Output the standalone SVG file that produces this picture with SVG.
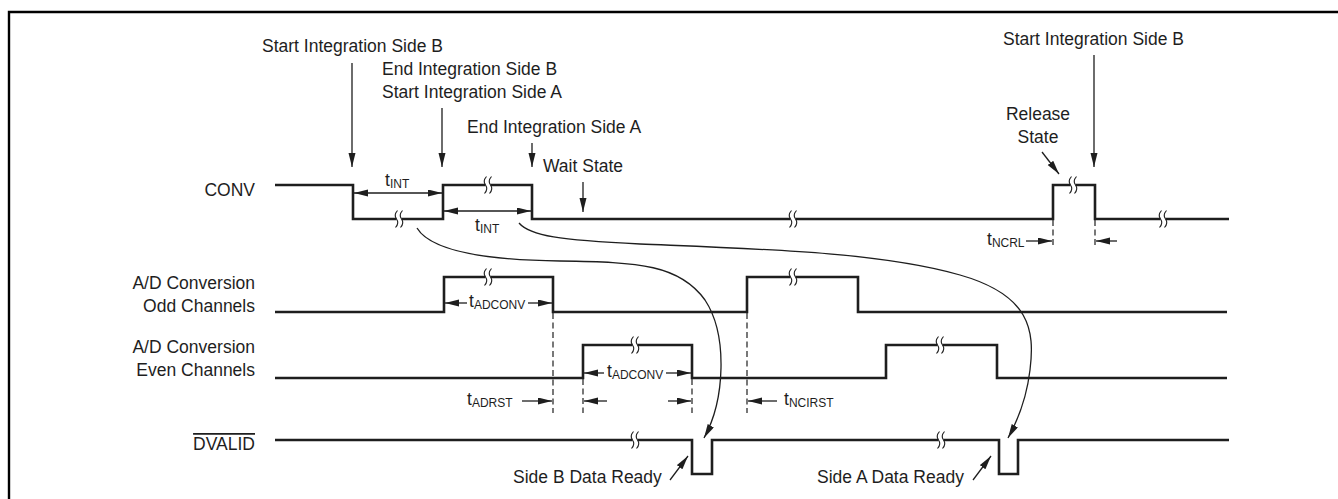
<svg xmlns="http://www.w3.org/2000/svg" xmlns:xlink="http://www.w3.org/1999/xlink" width="1338" height="499" viewBox="0 0 1338 499">
<style>
text{font-family:"Liberation Sans",Arial,Helvetica,sans-serif;font-size:17.5px;fill:#1e1e1e}
.sub{font-size:12px}
.sig{fill:none;stroke:#1e1e1e;stroke-width:2.6;stroke-linejoin:miter;stroke-linecap:butt}
.thin{fill:none;stroke:#1e1e1e;stroke-width:1.3}
.dash{fill:none;stroke:#1e1e1e;stroke-width:1.2;stroke-dasharray:6 3.5}
.frame{fill:none;stroke:#000;stroke-width:2.4}
.wv{fill:none;stroke:#1e1e1e;stroke-width:1.1}
</style>
<defs>
<marker id="ah" markerUnits="userSpaceOnUse" markerWidth="15" markerHeight="8" refX="14" refY="3.5" orient="auto-start-reverse" viewBox="0 0 15 8">
<path d="M0,0 L14,3.5 L0,7 z" fill="#1e1e1e"/>
</marker>
<g id="brk">
<rect x="-2.6" y="-2.4" width="5.2" height="4.8" fill="#fff"/>
<path class="wv" d="M-1.5,-8.5 Q-5.5,-4 -2.5,0 Q0.5,4 -3.5,8.5"/>
<path class="wv" d="M3.5,-8.5 Q-0.5,-4 2.5,0 Q5.5,4 1.5,8.5"/>
</g>
</defs>

<path id="frame" class="frame" d="M9,499 V12 H1338"/>

<g id="labels">
<text x="255" y="196" text-anchor="end">CONV</text>
<text x="255" y="289" text-anchor="end">A/D Conversion</text>
<text x="255" y="312" text-anchor="end">Odd Channels</text>
<text x="255" y="353" text-anchor="end">A/D Conversion</text>
<text x="255" y="376" text-anchor="end">Even Channels</text>
<text x="255" y="450" text-anchor="end" text-decoration="overline">DVALID</text>
</g>

<g id="signal-conv">
<path class="sig" d="M275,185 H353 V219 H443 V185 H532 V219 H1053 V185 H1095 V219 H1229"/>
<use xlink:href="#brk" x="399" y="219"/>
<use xlink:href="#brk" x="488" y="185"/>
<use xlink:href="#brk" x="793" y="219"/>
<use xlink:href="#brk" x="1073" y="185"/>
<use xlink:href="#brk" x="1163" y="219"/>
</g>

<g id="signal-odd">
<path class="sig" d="M275,312 H444 V277 H553 V312 H747 V277 H858 V312 H1227"/>
<use xlink:href="#brk" x="488" y="277"/>
<use xlink:href="#brk" x="793" y="277"/>
</g>

<g id="signal-even">
<path class="sig" d="M275,378 H583 V345 H692 V378 H886 V345 H997 V378 H1227"/>
<use xlink:href="#brk" x="635" y="345"/>
<use xlink:href="#brk" x="940" y="345"/>
</g>

<g id="signal-dvalid">
<path class="sig" d="M275,440 H692 V474 H712 V440 H999 V474 H1018 V440 H1229"/>
<use xlink:href="#brk" x="635" y="440"/>
<use xlink:href="#brk" x="941" y="440"/>
</g>

<g id="events">
<text x="262" y="52">Start Integration Side B</text>
<line class="thin" x1="352" y1="63" x2="352" y2="167" marker-end="url(#ah)"/>
<text x="382" y="75">End Integration Side B</text>
<text x="382" y="98">Start Integration Side A</text>
<line class="thin" x1="442" y1="108" x2="442" y2="167" marker-end="url(#ah)"/>
<text x="467" y="133">End Integration Side A</text>
<line class="thin" x1="532" y1="143" x2="532" y2="167" marker-end="url(#ah)"/>
<text x="543" y="172">Wait State</text>
<line class="thin" x1="583" y1="182" x2="583" y2="212" marker-end="url(#ah)"/>
<text x="1003" y="45">Start Integration Side B</text>
<line class="thin" x1="1094" y1="55" x2="1094" y2="167" marker-end="url(#ah)"/>
<text x="1038" y="120" text-anchor="middle">Release</text>
<text x="1038" y="143" text-anchor="middle">State</text>
<line class="thin" x1="1042" y1="152" x2="1059" y2="174" marker-end="url(#ah)"/>
</g>

<g id="timings">
<line class="thin" x1="354" y1="193" x2="442" y2="193" marker-start="url(#ah)" marker-end="url(#ah)"/>
<text x="385" y="186">t<tspan class="sub" dy="2">INT</tspan></text>
<line class="thin" x1="444" y1="211" x2="531" y2="211" marker-start="url(#ah)" marker-end="url(#ah)"/>
<text x="475" y="231">t<tspan class="sub" dy="2">INT</tspan></text>

<line class="thin" x1="467" y1="303" x2="445" y2="303" marker-end="url(#ah)"/>
<text x="469" y="306.5">t<tspan class="sub" dy="2">ADCONV</tspan></text>
<line class="thin" x1="528" y1="303" x2="552" y2="303" marker-end="url(#ah)"/>

<line class="thin" x1="604" y1="373" x2="584" y2="373" marker-end="url(#ah)"/>
<text x="607" y="376.5">t<tspan class="sub" dy="2">ADCONV</tspan></text>
<line class="thin" x1="666" y1="373" x2="691" y2="373" marker-end="url(#ah)"/>

<line class="dash" x1="553" y1="313" x2="553" y2="413"/>
<line class="dash" x1="583" y1="379" x2="583" y2="413"/>
<line class="dash" x1="692" y1="379" x2="692" y2="413"/>
<line class="dash" x1="747" y1="313" x2="747" y2="413"/>

<text x="467" y="405">t<tspan class="sub" dy="2">ADRST</tspan></text>
<line class="thin" x1="522" y1="401" x2="552" y2="401" marker-end="url(#ah)"/>
<line class="thin" x1="607" y1="401" x2="584" y2="401" marker-end="url(#ah)"/>
<line class="thin" x1="668" y1="401" x2="691" y2="401" marker-end="url(#ah)"/>
<line class="thin" x1="777" y1="401" x2="748" y2="401" marker-end="url(#ah)"/>
<text x="784" y="405">t<tspan class="sub" dy="2">NCIRST</tspan></text>

<line class="dash" x1="1053" y1="220" x2="1053" y2="245"/>
<line class="dash" x1="1095" y1="220" x2="1095" y2="245"/>
<text x="987" y="245">t<tspan class="sub" dy="2">NCRL</tspan></text>
<line class="thin" x1="1026" y1="241" x2="1052" y2="241" marker-end="url(#ah)"/>
<line class="thin" x1="1117" y1="241" x2="1096" y2="241" marker-end="url(#ah)"/>
</g>

<g id="connectors">
<path class="thin" d="M417,228 C430,250 480,260 560,261 C640,262 680,265 705,300 C728,335 725,400 704,438" marker-end="url(#ah)"/>
<path class="thin" d="M519,223 C530,236 560,240 640,244 C760,249 880,252 960,275 C1030,295 1035,330 1030,370 C1027,395 1018,420 1008,438" marker-end="url(#ah)"/>
</g>

<g id="data-ready">
<text x="513" y="483">Side B Data Ready</text>
<line class="thin" x1="670" y1="480" x2="688" y2="456" marker-end="url(#ah)"/>
<text x="817" y="483">Side A Data Ready</text>
<line class="thin" x1="973" y1="480" x2="991" y2="456" marker-end="url(#ah)"/>
</g>
</svg>
